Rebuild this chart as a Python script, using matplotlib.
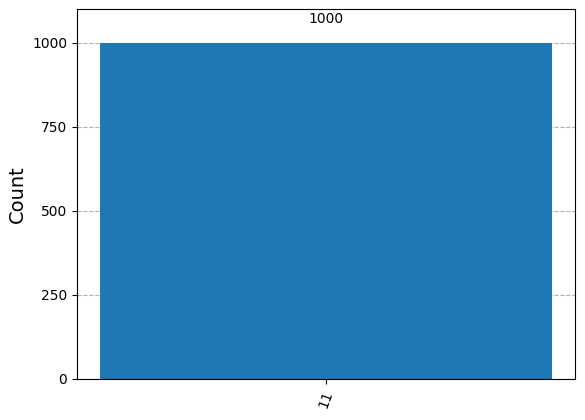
import matplotlib
matplotlib.use("Agg")
import matplotlib.pyplot as plt

# dane histogramu
stany = ["11"]
zliczenia = [1000]
yticki = [0, 250, 500, 750, 1000]

fig = plt.figure(figsize=(5.85, 4.2), dpi=100)
ax = fig.add_axes([77 / 585, 41 / 420, 498 / 585, 370 / 420])

pozycje = list(range(len(stany)))
slupki = ax.bar(pozycje, zliczenia, width=0.5, color="#1f77b4", zorder=2)
ax.set_xlim(-0.275, 0.275)
ax.set_ylim(0, max(zliczenia) * 1.1)

for slupek, wartosc in zip(slupki, zliczenia):
    ax.text(slupek.get_x() + slupek.get_width() / 2, 1.05 * wartosc, str(wartosc),
            ha="center", va="bottom", fontsize=10)

ax.set_xticks(pozycje)
ax.set_xticklabels(stany, rotation=70, fontsize=10)
ax.set_yticks(yticki)
ax.tick_params(axis="y", labelsize=10)
ax.set_ylabel("Count", fontsize=14)
ax.yaxis.grid(True, linestyle="--", color="#b0b0b0", linewidth=0.8)
ax.set_axisbelow(True)

fig.savefig("out.png", dpi=100)
